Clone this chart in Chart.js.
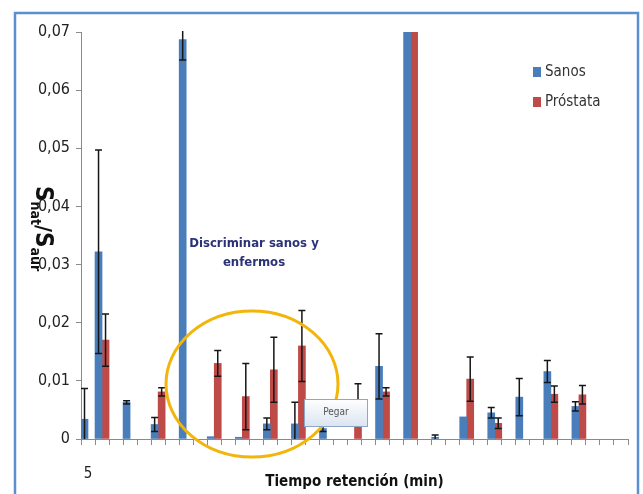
<!DOCTYPE html>
<html>
<head>
<meta charset="utf-8">
<script src="https://cdn.jsdelivr.net/npm/chart.js@4"></script>
<style>
  html, body { margin: 0; padding: 0; background: #fff; }
  #wrap { position: relative; width: 643px; height: 494px; }
</style>
</head>
<body>
<div id="wrap"><canvas id="grafico" width="643" height="494"></canvas></div>
<script>
// 39 categorias (tiempo de retencion), solo la primera lleva etiqueta
var etiquetas = ['5','','','','','','','','','','','','','','','','','','','',
                 '','','','','','','','','','','','','','','','','','',''];

var sanos = [0.0034, 0.0322, null, 0.0063, null, 0.0025, null, 0.0687, null, 0.0004,
             null, 0.0003, null, 0.0026, null, 0.0026, null, 0.0018, null, null,
             null, 0.0125, null, 0.075, null, 0.0003, null, 0.0038, null, 0.0045,
             null, 0.0072, null, 0.0116, null, 0.0056, null, null, null];
var sanosErr = [0.0053, 0.0175, null, 0.0003, null, 0.0012, null, 0.0035, null, null,
                null, null, null, 0.0010, null, 0.0037, null, 0.0005, null, null,
                null, 0.0056, null, null, null, 0.0004, null, null, null, 0.0009,
                null, 0.0032, null, 0.0019, null, 0.0008, null, null, null];

var prostata = [null, 0.0170, null, null, null, 0.0081, null, null, null, 0.0130,
                null, 0.0073, null, 0.0119, null, 0.0160, null, null, null, 0.0060,
                null, 0.0081, null, 0.075, null, null, null, 0.0103, null, 0.0027,
                null, null, null, 0.0077, null, 0.0076, null, null, null];
var prostataErr = [null, 0.0045, null, null, null, 0.0007, null, null, null, 0.0022,
                   null, 0.0057, null, 0.0056, null, 0.0061, null, null, null, 0.0035,
                   null, 0.0007, null, null, null, null, null, 0.0038, null, 0.0009,
                   null, null, null, 0.0014, null, 0.0016, null, null, null];

var fuente = "'Liberation Sans Narrow', 'DejaVu Sans Condensed', sans-serif";

// marco, elipse, barras de error, leyenda, textos sueltos
var extras = {
  id: 'extras',
  beforeDraw: function(chart) {
    var ctx = chart.ctx;
    ctx.save();
    ctx.fillStyle = '#fff';
    ctx.fillRect(0, 0, chart.width, chart.height);
    ctx.strokeStyle = '#5b8fd0';
    ctx.lineWidth = 2.5;
    ctx.strokeRect(15, 13, 623, 500);
    ctx.restore();
  },
  afterDatasetsDraw: function(chart) {
    var ctx = chart.ctx, y = chart.scales.y, area = chart.chartArea;
    ctx.save();
    ctx.beginPath();
    ctx.rect(area.left, area.top - 1, area.right - area.left, area.bottom - area.top + 1);
    ctx.clip();
    ctx.strokeStyle = '#161616';
    ctx.lineWidth = 1.5;
    chart.data.datasets.forEach(function(ds, di) {
      var meta = chart.getDatasetMeta(di);
      meta.data.forEach(function(bar, i) {
        var v = ds.data[i], e = ds.errores[i];
        if (v == null || e == null) return;
        var x = bar.x;
        var yt = y.getPixelForValue(v + e);
        var lo = v - e;
        var yb = y.getPixelForValue(Math.max(0, lo));
        ctx.beginPath();
        ctx.moveTo(x, yt); ctx.lineTo(x, yb);
        ctx.moveTo(x - 3.5, yt); ctx.lineTo(x + 3.5, yt);
        if (lo > 0) { ctx.moveTo(x - 3.5, yb); ctx.lineTo(x + 3.5, yb); }
        ctx.stroke();
      });
    });
    ctx.restore();
  },
  afterDraw: function(chart) {
    var ctx = chart.ctx;
    ctx.save();
    // elipse amarilla
    ctx.strokeStyle = '#f2b50a';
    ctx.lineWidth = 3;
    ctx.beginPath();
    ctx.ellipse(252, 384, 86, 73, 0, 0, Math.PI * 2);
    ctx.stroke();

    // texto anotacion
    ctx.fillStyle = '#2b3278';
    ctx.font = 'bold 13px ' + fuente;
    ctx.textAlign = 'center';
    ctx.textBaseline = 'middle';
    ctx.fillText('Discriminar sanos y', 254, 244);
    ctx.fillText('enfermos', 254, 263);

    // cuadro "Pegar"
    var g = ctx.createLinearGradient(0, 399, 0, 426);
    g.addColorStop(0, '#ffffff');
    g.addColorStop(1, '#dbe5f1');
    ctx.fillStyle = g;
    ctx.fillRect(304, 399, 63, 27);
    ctx.strokeStyle = '#8ea6c8';
    ctx.lineWidth = 1;
    ctx.strokeRect(304.5, 399.5, 63, 27);
    ctx.fillStyle = '#555';
    ctx.font = '10px ' + fuente;
    ctx.fillText('Pegar', 336, 412);

    // leyenda
    ctx.textAlign = 'left';
    ctx.font = '15px ' + fuente;
    chart.data.datasets.forEach(function(ds, i) {
      var yy = 72 + i * 30;
      ctx.fillStyle = ds.backgroundColor;
      ctx.fillRect(533, yy - 5, 8, 10);
      ctx.fillStyle = '#333';
      ctx.fillText(ds.label, 545, yy);
    });

    // titulo eje y, girado
    ctx.translate(44, 186);
    ctx.rotate(Math.PI / 2);
    ctx.fillStyle = '#111';
    ctx.textBaseline = 'alphabetic';
    var x = 0;
    var partes = [['S', 'bold 24px ', 0], ['nat', 'bold 14px ', 5], ['/', 'bold 21px ', 0],
                  ['S', 'bold 24px ', 0], ['aur', 'bold 14px ', 5]];
    partes.forEach(function(p) {
      ctx.font = p[1] + fuente;
      ctx.fillText(p[0], x, 8 + p[2]);
      x += ctx.measureText(p[0]).width;
    });
    ctx.restore();
  }
};

new Chart('grafico', {
  type: 'bar',
  data: {
    labels: etiquetas,
    datasets: [{
      label: 'Sanos',
      data: sanos,
      errores: sanosErr,
      backgroundColor: '#4a7ebb',
      categoryPercentage: 1,
      barPercentage: 1
    }, {
      label: 'Próstata',
      data: prostata,
      errores: prostataErr,
      backgroundColor: '#be4b48',
      categoryPercentage: 1,
      barPercentage: 1
    }]
  },
  options: {
    responsive: false,
    animation: false,
    layout: { padding: { left: 0, top: 32, right: 15, bottom: 0 } },
    plugins: { legend: { display: false }, tooltip: { enabled: false } },
    scales: {
      x: {
        afterFit: function(s) { s.height = 55; },
        grid: { drawOnChartArea: false, tickLength: 6, color: '#8a8a8a', offset: true },
        border: { color: '#8a8a8a' },
        ticks: { autoSkip: false, maxRotation: 0, padding: 20, color: '#222',
                 font: { family: fuente, size: 15 } },
        title: { display: true, text: 'Tiempo retención (min)', color: '#111',
                 padding: { top: 0, bottom: 3 },
                 font: { family: fuente, size: 15, weight: 'bold' } }
      },
      y: {
        min: 0, max: 0.07,
        afterFit: function(s) { s.width = 81; },
        grid: { drawOnChartArea: false, tickLength: 5, color: '#8a8a8a' },
        border: { color: '#8a8a8a' },
        ticks: {
          stepSize: 0.01, padding: 6, color: '#222',
          font: { family: fuente, size: 16 },
          callback: function(v) { return v === 0 ? '0' : v.toFixed(2).replace('.', ','); }
        }
      }
    }
  },
  plugins: [extras]
});
</script>
</body>
</html>
